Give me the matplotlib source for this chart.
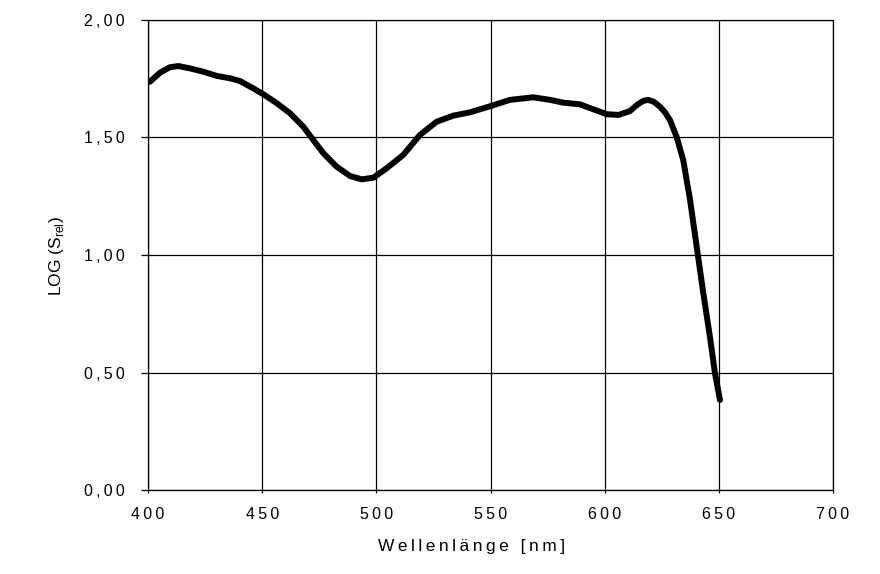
import numpy as np
import matplotlib
matplotlib.use("Agg")
import matplotlib.pyplot as plt

plt.rcParams['font.family'] = ['Liberation Sans', 'DejaVu Sans']

# Wellenlänge [nm] und LOG(S_rel)
wavelength = [400, 400.9, 405.3, 409.6, 413.3, 418.4, 424.2, 430.1, 435.9, 440.3,
              446.1, 450.5, 456.4, 462.2, 468, 472.4, 476.8, 482.6, 488.5, 493.6,
              498.7, 504.5, 511.8, 519.1, 526.4, 533.7, 541, 550.5, 558.5, 568.7,
              576.1, 581.9, 589.2, 595, 600.9, 606, 611, 614.6, 617, 619, 621.5, 624.2,
              626.5, 628.6, 631.5, 634.4, 637.4, 640.3, 643.2, 646.1, 648.3, 650.5]
log_s = [1.735, 1.738, 1.776, 1.799, 1.804, 1.794, 1.780, 1.762, 1.752, 1.74,
         1.709, 1.684, 1.646, 1.603, 1.546, 1.489, 1.433, 1.376, 1.336, 1.322,
         1.329, 1.369, 1.426, 1.511, 1.567, 1.593, 1.607, 1.635, 1.660, 1.671,
         1.660, 1.648, 1.641, 1.620, 1.599, 1.596, 1.612, 1.642, 1.656, 1.66, 1.652, 1.631,
         1.606, 1.574, 1.503, 1.404, 1.234, 1.035, 0.837, 0.652, 0.497, 0.383]

x_ticks = [400, 450, 500, 550, 600, 650, 700]
y_ticks = [0.0, 0.5, 1.0, 1.5, 2.0]


def spaced(s):
    # breite Zeichenabstände wie im Original
    return "\u2009".join(s)


fig = plt.figure(figsize=(8.8, 5.74), dpi=100)
ax = fig.add_axes([0.1682, 0.1463, 0.7784, 0.8189])

ax.plot(wavelength, log_s, color='black', linewidth=4.3,
        solid_joinstyle='round', solid_capstyle='round', zorder=3)

ax.set_xlim(400, 700)
ax.set_ylim(0, 2)
ax.set_xticks(x_ticks)
ax.set_yticks(y_ticks)
ax.set_xticklabels([spaced(str(v)) for v in x_ticks])
ax.set_yticklabels([spaced(f"{v:.2f}".replace('.', ',')) for v in y_ticks])
ax.grid(True, color='black', linewidth=0.9)
ax.set_axisbelow(True)

for sp in ax.spines.values():
    sp.set_linewidth(0.9)

ax.tick_params(axis='y', direction='out', length=5, width=0.9, pad=12, labelsize=11.5)
ax.tick_params(axis='x', direction='out', length=2, width=0.9, pad=10, labelsize=11.5)

ax.set_xlabel(spaced("Wellenlänge [nm]"), fontsize=12.5)
ax.xaxis.set_label_coords(0.473, -0.105)
ax.set_ylabel("LOG (S$_{\\mathregular{rel}}$)", fontsize=12.5)
ax.yaxis.set_label_coords(-0.12, 0.498)

fig.savefig("out.png", dpi=100)
